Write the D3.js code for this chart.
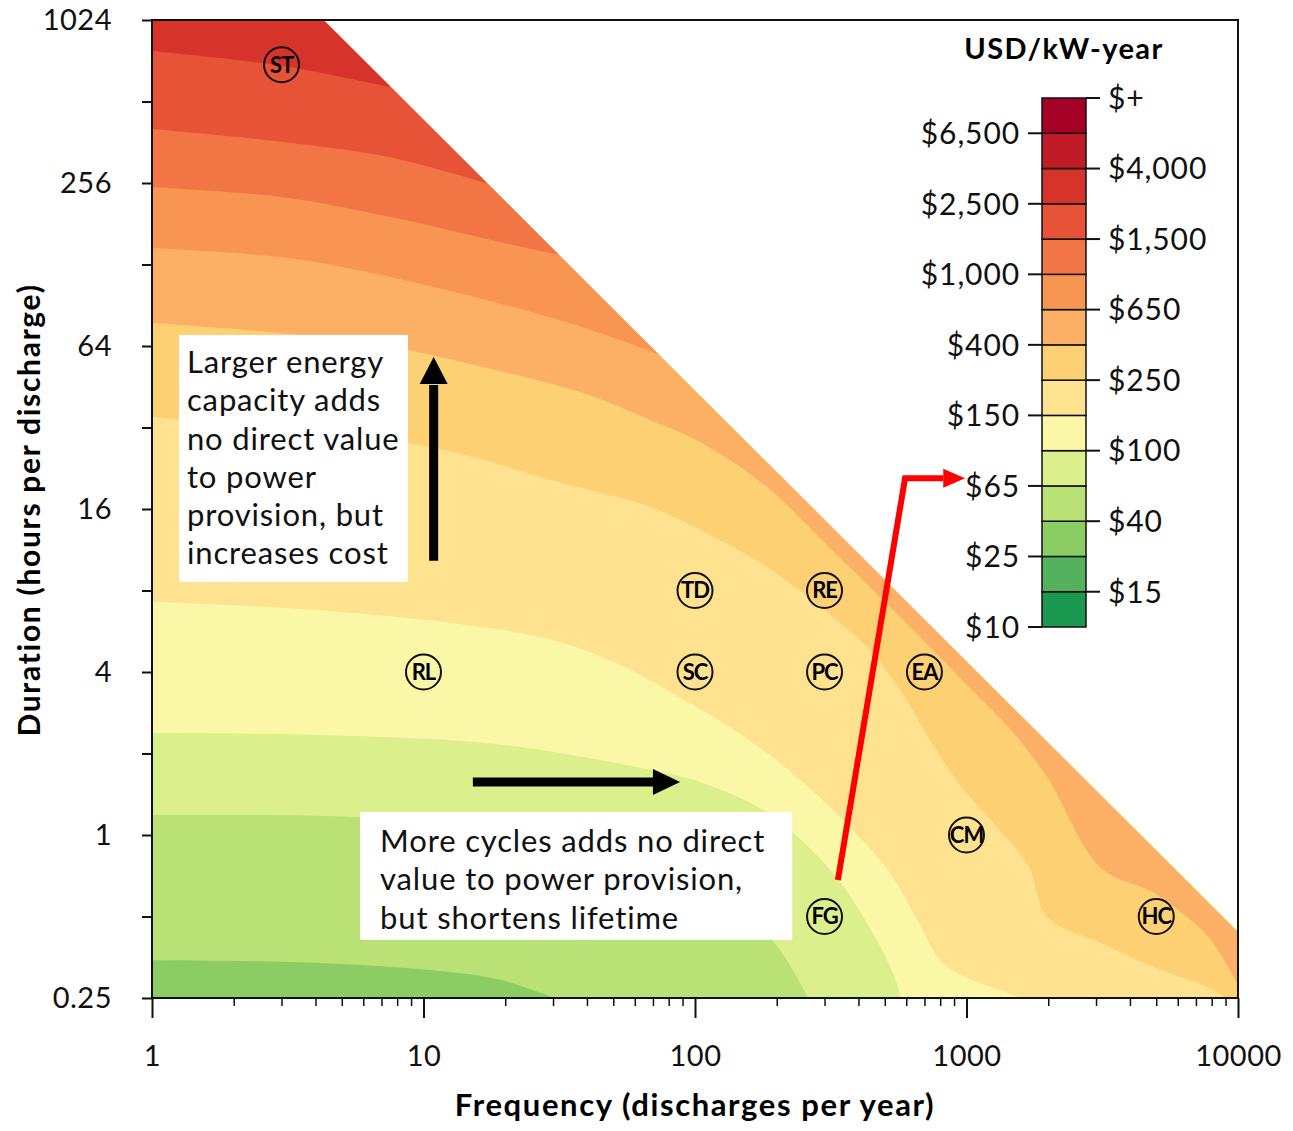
<!DOCTYPE html>
<html>
<head>
<meta charset="utf-8">
<script src="https://cdn.jsdelivr.net/npm/d3@7"></script>
<style>
    body { margin: 0; background: #fff; }
    svg { font-family: Lato, 'Open Sans', sans-serif; }
</style>
</head>
<body>
<div id="chart-area"></div>
<script>
// canvas size
const width = 1293;
const height = 1131;

// plot box in pixels
const plot = { left: 152, right: 1238, top: 20, bottom: 998 };

// cost levels (USD/kW-year) and the colour of the band above each level
const costLevels = [10, 15, 25, 40, 65, 100, 150, 250, 400, 650, 1000, 1500, 2500, 4000, 6500];
const bandColors = ['#1a9850', '#54b15d', '#8bcd63', '#b9e176', '#dcef8d', '#faf7a6', '#fee28f',
    '#fdd074', '#fcb066', '#f99553', '#f27545', '#e65336', '#d6332b', '#bf1c27', '#a50026'];
const legendLabels = ['$10', '$15', '$25', '$40', '$65', '$100', '$150', '$250', '$400', '$650',
    '$1,000', '$1,500', '$2,500', '$4,000', '$6,500', '$+'];

// hours a year the store can discharge (half the year charging)
const maxHours = 4380;

// contour boundaries: [discharges per year, hours per discharge]
const c40 = [[1, 0.345], [4.16, 0.337], [10.6, 0.317], [19.1, 0.292], [30.5, 0.25]];
const c65 = [[1, 1.185], [5.55, 1.166], [29.2, 1.017], [57.6, 0.895], [95.9, 0.724], [192, 0.41], [261, 0.25]];
const c100 = [[1, 2.38], [4.05, 2.34], [16.6, 2.19], [38.7, 1.94], [68.3, 1.74], [104, 1.57], [184, 1.21],
    [322, 0.724], [430, 0.473], [536, 0.309], [574, 0.25]];
const c150 = [[1, 7.26], [4.05, 6.78], [16.6, 5.86], [31.8, 5.16], [52.9, 4.25], [78.9, 3.43], [159, 2.24],
    [244, 1.6], [372, 1.07], [523, 0.724], [657, 0.486], [799, 0.345], [954, 0.304], [1601, 0.25]];
const c250 = [[1, 35.0], [3.51, 31.3], [8.7, 28.1], [16.6, 24.3], [29.2, 20.5], [68.3, 16.3], [104, 13.4],
    [184, 9.77], [322, 6.39], [441, 4.82], [569, 3.43], [734, 2.24], [946, 1.53], [1329, 1.04], [1699, 0.762],
    [1979, 0.498], [3129, 0.399], [4905, 0.325], [7756, 0.274], [9033, 0.25]];
const c400 = [[1, 77.8], [3.51, 70.3], [8.7, 61.9], [16.6, 53.5], [38.7, 42.9], [68.3, 34.1], [104, 28.3],
    [184, 19.3], [322, 11.2], [493, 7.38], [753, 4.82], [1030, 3.49], [1459, 2.44], [1979, 1.638],
    [3129, 0.755], [4905, 0.61], [7756, 0.42], [10000, 0.28]];
const c650 = [[1, 147], [3.04, 136], [7.53, 115], [18.65, 92.3], [34.4, 77.8], [52.9, 67.3], [74.3, 59.3]];
const c1000 = [[1, 247], [3.04, 227], [7.53, 192], [17.6, 158], [31.5, 139]];
const c1500 = [[1, 405], [3.04, 363], [7.53, 319], [17.0, 256]];
const c2500 = [[1, 787], [3.04, 693], [7.53, 579]];

const contourLines = [
    { level: 40, pts: c40 }, { level: 65, pts: c65 }, { level: 100, pts: c100 },
    { level: 150, pts: c150 }, { level: 250, pts: c250 }, { level: 400, pts: c400 },
    { level: 650, pts: c650 }, { level: 1000, pts: c1000 }, { level: 1500, pts: c1500 },
    { level: 2500, pts: c2500 }
];

// storage applications marked on the chart
const siteCodes = ['ST', 'RL', 'TD', 'RE', 'SC', 'PC', 'EA', 'CM', 'FG', 'HC'];
const siteFreq = [3, 10, 100, 300, 100, 300, 700, 1000, 300, 5000];
const siteHours = [700, 4, 8, 8, 4, 4, 4, 1, 0.5, 0.5];

// axis ticks
const xMajor = [1, 10, 100, 1000, 10000];
const yTicks = [0.25, 0.5, 1, 2, 4, 8, 16, 32, 64, 128, 256, 512, 1024];

// annotations
const note1 = ['Larger energy', 'capacity adds', 'no direct value', 'to power', 'provision, but', 'increases cost'];
const note2 = ['More cycles adds no direct', 'value to power provision,', 'but shortens lifetime'];

const svg = d3.select('#chart-area').append('svg')
    .attr('width', width)
    .attr('height', height);

// log scales: frequency base 10, duration base 2
const x = d3.scaleLog().domain([1, 10000]).range([plot.left, plot.right]);
const y = d3.scaleLog().base(2).domain([0.25, 1024]).range([plot.bottom, plot.top]);

// clip: nothing above freq * hours = maxHours
const clipPts = [[1, 0.25], [10000, 0.25], [10000, maxHours / 10000], [maxHours / 1024, 1024], [1, 1024]];
svg.append('clipPath').attr('id', 'feasible')
    .append('polygon')
    .attr('points', clipPts.map(p => x(p[0]) + ',' + y(p[1])).join(' '));

const bands = svg.append('g').attr('clip-path', 'url(#feasible)');

// base colour ($25 - $40)
bands.append('rect')
    .attr('x', plot.left).attr('y', plot.top)
    .attr('width', plot.right - plot.left).attr('height', plot.bottom - plot.top)
    .attr('fill', bandColors[costLevels.indexOf(25)]);

const curve = d3.line()
    .x(d => x(d[0]))
    .y(d => y(d[1]))
    .curve(d3.curveCatmullRom.alpha(0.5));

function bandPath(pts) {
    const last = pts[pts.length - 1];
    const close = last[1] <= 0.25
        ? [[10000, 0.25], [10000, 1024], [1, 1024]]
        : [[last[0], 1024], [1, 1024]];
    return curve(pts) + close.map(p => 'L' + x(p[0]) + ',' + y(p[1])).join('') + 'Z';
}

// paint each region above a level, lowest first
bands.selectAll('path.band')
    .data(contourLines)
    .enter().append('path')
    .attr('class', 'band')
    .attr('d', d => bandPath(d.pts))
    .attr('fill', d => bandColors[costLevels.indexOf(d.level)]);

// frame
svg.append('rect')
    .attr('x', plot.left).attr('y', plot.top)
    .attr('width', plot.right - plot.left).attr('height', plot.bottom - plot.top)
    .attr('fill', 'none').attr('stroke', '#111').attr('stroke-width', 2);

// y axis
const yAxis = svg.append('g')
    .attr('transform', `translate(${plot.left},0)`)
    .call(d3.axisLeft(y).tickValues(yTicks).tickSize(10).tickPadding(30)
        .tickFormat(d => Math.log2(d) % 2 === 0 ? String(d) : ''));
yAxis.select('.domain').remove();
yAxis.selectAll('line').attr('stroke', '#111').attr('stroke-width', 2);
yAxis.selectAll('text').attr('font-size', 29).attr('letter-spacing', 0.5).attr('fill', '#111').attr('font-family', 'Lato');

// x axis: minor ticks then major ticks with labels
const xMinor = [];
xMajor.slice(0, -1).forEach(m => { for (let k = 2; k < 10; k++) xMinor.push(m * k); });
const xAxisMinor = svg.append('g')
    .attr('transform', `translate(0,${plot.bottom})`)
    .call(d3.axisBottom(x).tickValues(xMinor).tickSize(8).tickFormat(''));
xAxisMinor.select('.domain').remove();
xAxisMinor.selectAll('line').attr('stroke', '#111').attr('stroke-width', 1.5);

const xAxis = svg.append('g')
    .attr('transform', `translate(0,${plot.bottom})`)
    .call(d3.axisBottom(x).tickValues(xMajor).tickSize(20).tickPadding(27).tickFormat(d => String(d)));
xAxis.select('.domain').remove();
xAxis.selectAll('line').attr('stroke', '#111').attr('stroke-width', 2);
xAxis.selectAll('text').attr('font-size', 29).attr('letter-spacing', 0.5).attr('fill', '#111').attr('font-family', 'Lato');

// axis titles
svg.append('text')
    .attr('transform', `translate(40,${(plot.top + plot.bottom) / 2 + 1}) rotate(-90)`)
    .attr('text-anchor', 'middle')
    .attr('font-size', 30).attr('font-weight', 'bold').attr('letter-spacing', 1.7)
    .text('Duration (hours per discharge)');
svg.append('text')
    .attr('x', (plot.left + plot.right) / 2).attr('y', 1116)
    .attr('text-anchor', 'middle')
    .attr('font-size', 31).attr('font-weight', 'bold').attr('letter-spacing', 1.6)
    .text('Frequency (discharges per year)');

// application markers
const sites = svg.append('g').selectAll('g')
    .data(siteCodes.map((c, i) => ({ code: c, f: siteFreq[i], h: siteHours[i] })))
    .enter().append('g')
    .attr('transform', d => `translate(${x(d.f)},${y(d.h)})`);
sites.append('circle').attr('r', 17.5).attr('fill', 'none').attr('stroke', '#111').attr('stroke-width', 2);
sites.append('text')
    .attr('text-anchor', 'middle').attr('dy', '0.36em')
    .attr('font-size', 22).attr('font-weight', 'bold').attr('letter-spacing', -1)
    .text(d => d.code);

// note boxes (corners in data units)
function noteBox(tl, br, lines, padX, firstBase) {
    const x0 = x(tl[0]), y0 = y(tl[1]);
    svg.append('rect')
        .attr('x', x0).attr('y', y0)
        .attr('width', x(br[0]) - x0).attr('height', y(br[1]) - y0)
        .attr('fill', '#fff');
    svg.append('text')
        .attr('font-size', 31).attr('letter-spacing', 0.85).attr('fill', '#111')
        .selectAll('tspan').data(lines).enter().append('tspan')
        .attr('x', x0 + padX)
        .attr('y', (d, i) => y0 + firstBase + i * 38.3)
        .text(d => d);
}
noteBox([1.257, 70.3], [8.77, 8.6], note1, 8, 38);
noteBox([5.84, 1.216], [228, 0.41], note2, 20, 40);

// black arrows
const up = { f: 10.9, from: 10.3, base: 46.3, tip: 58.3 };
svg.append('line')
    .attr('x1', x(up.f)).attr('x2', x(up.f))
    .attr('y1', y(up.from)).attr('y2', y(up.base) + 1)
    .attr('stroke', '#000').attr('stroke-width', 9);
svg.append('polygon')
    .attr('points', [[x(up.f) - 14, y(up.base)], [x(up.f), y(up.tip)], [x(up.f) + 14, y(up.base)]].join(' '))
    .attr('fill', '#000');

const right = { h: 1.57, from: 15.2, base: 70, tip: 88.1 };
svg.append('line')
    .attr('x1', x(right.from)).attr('x2', x(right.base) + 1)
    .attr('y1', y(right.h)).attr('y2', y(right.h))
    .attr('stroke', '#000').attr('stroke-width', 9);
svg.append('polygon')
    .attr('points', [[x(right.base), y(right.h) - 13], [x(right.tip), y(right.h)], [x(right.base), y(right.h) + 13]].join(' '))
    .attr('fill', '#000');

// red arrow from FG towards the $65 legend label
const redPath = [[336, 0.682], [594, 20.8], [821, 20.8]];
const redTip = [988, 20.8];
svg.append('path')
    .attr('d', d3.line().x(d => x(d[0])).y(d => y(d[1]))(redPath))
    .attr('fill', 'none').attr('stroke', '#ff0000').attr('stroke-width', 6);
svg.append('polygon')
    .attr('points', [[x(redPath[2][0]), y(redTip[1]) - 9.5], [x(redTip[0]), y(redTip[1])], [x(redPath[2][0]), y(redTip[1]) + 9.5]].join(' '))
    .attr('fill', '#ff0000');

// colour legend
const legend = { left: 1042, right: 1086, top: 98, bottom: 627 };
const ly = d3.scaleLinear().domain([0, bandColors.length]).range([legend.bottom, legend.top]);
const lg = svg.append('g');
lg.append('text')
    .attr('x', (legend.left + legend.right) / 2).attr('y', 59)
    .attr('text-anchor', 'middle')
    .attr('font-size', 29).attr('font-weight', 'bold').attr('letter-spacing', 1.4)
    .text('USD/kW-year');
lg.selectAll('rect')
    .data(bandColors)
    .enter().append('rect')
    .attr('x', legend.left).attr('width', legend.right - legend.left)
    .attr('y', (d, i) => ly(i + 1)).attr('height', (d, i) => ly(i) - ly(i + 1))
    .attr('fill', d => d)
    .attr('stroke', '#111').attr('stroke-width', 1.5);
const lt = lg.selectAll('g.lt')
    .data(legendLabels)
    .enter().append('g')
    .attr('class', 'lt')
    .attr('transform', (d, i) => `translate(0,${ly(i)})`);
lt.append('line')
    .attr('x1', (d, i) => i % 2 === 0 ? legend.left - 14 : legend.right)
    .attr('x2', (d, i) => i % 2 === 0 ? legend.left : legend.right + 14)
    .attr('stroke', '#111').attr('stroke-width', 2);
lt.append('text')
    .attr('x', (d, i) => i % 2 === 0 ? legend.left - 22 : legend.right + 22)
    .attr('text-anchor', (d, i) => i % 2 === 0 ? 'end' : 'start')
    .attr('dy', '0.36em')
    .attr('font-size', 30).attr('letter-spacing', 0.9).attr('fill', '#111')
    .text(d => d);
</script>
</body>
</html>
